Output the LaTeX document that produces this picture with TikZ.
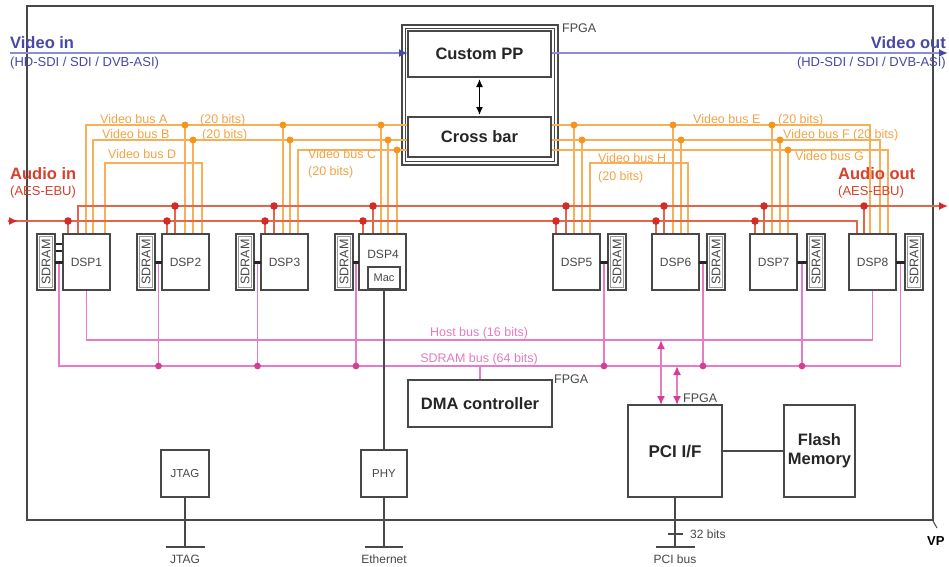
\documentclass[tikz,border=0pt]{standalone}
\usepackage{fontspec}
\setmainfont{Liberation Sans}
\usetikzlibrary{arrows.meta,calc}
\newcommand\fsz[1]{\fontsize{#1}{#1}\selectfont}
\definecolor{dk}{HTML}{484848}
\definecolor{vidc}{HTML}{8C8CD8}
\definecolor{vidt}{HTML}{4848A6}
\definecolor{audl}{HTML}{E2664A}
\definecolor{audd}{HTML}{D42A2A}
\definecolor{audt}{HTML}{D6402C}
\definecolor{orl}{HTML}{F8B058}
\definecolor{ord}{HTML}{F4961C}
\definecolor{ort}{HTML}{F2A445}
\definecolor{pkl}{HTML}{E67CC6}
\definecolor{pkd}{HTML}{D63C98}
\definecolor{pkt}{HTML}{E47CC0}
\pgfdeclarelayer{bg}
\pgfsetlayers{bg,main}
\begin{document}
\begin{tikzpicture}[x=1pt,y=-1pt,
  frame/.style={draw=dk, line width=1.8pt},
  blk/.style={draw=dk, line width=1.6pt, fill=white, inner sep=0pt, outer sep=0pt, anchor=north west},
  dspbox/.style={blk, minimum width=47pt, minimum height=56pt, font=\fsz{12}, text=dk},
  sdbox/.style={blk, minimum width=18pt, minimum height=56pt, line width=1.5pt},
  sdtxt/.style={rotate=90, font=\fsz{12.5}, text=dk, inner sep=0pt},
  lbl/.style={font=\fsz{12.5}, inner sep=0pt, anchor=base west},
  bigbox/.style={blk, font=\bfseries\fsz{16.5}, text=black!85},
  vid/.style={draw=vidc, line width=1.8pt},
  aud/.style={draw=audl, line width=1.5pt},
  orn/.style={draw=orl, line width=1.4pt},
  pnk/.style={draw=pkl, line width=1.4pt},
  pnkarrow/.style={draw=pkl, line width=1.6pt, {Latex[length=9pt,width=8pt,color=pkd]}-{Latex[length=9pt,width=8pt,color=pkd]}},
  wire/.style={draw=dk, line width=1.3pt},
  conn/.style={draw=black!85, line width=3pt},
]
\useasboundingbox (0,0) rectangle (949,566);
\begin{pgfonlayer}{bg}
\fill[white] (0,0) rectangle (949,566);
\end{pgfonlayer}

% ---------- boxes ----------
\node[bigbox, minimum width=143pt, minimum height=46pt] (cpp) at (408,31) {Custom PP};
\node[bigbox, minimum width=143pt, minimum height=40pt] (xb) at (408,117) {Cross bar};
\node[bigbox, minimum width=144pt, minimum height=47pt] (dma) at (408,380) {DMA controller};
\node[bigbox, minimum width=94pt, minimum height=92pt, font=\bfseries\fsz{17}] (pci) at (628,405) {PCI I/F};
\node[bigbox, minimum width=71pt, minimum height=92pt, align=center, font=\bfseries\fontsize{16.5}{19}\selectfont] (fl) at (784,405) {Flash\\Memory};
\node[blk, minimum width=48pt, minimum height=47pt, font=\fsz{11.5}, text=dk] (jt) at (161,450) {JTAG};
\node[blk, minimum width=46pt, minimum height=47pt, font=\fsz{11.5}, text=dk] (phy) at (361,450) {PHY};

\node[dspbox] (d1) at (63,234) {DSP1};
\node[dspbox] (d2) at (162,234) {DSP2};
\node[dspbox] (d3) at (261,234) {DSP3};
\node[dspbox] (d4) at (359,234) {};
\node[font=\fsz{12}, text=dk, inner sep=0pt] (d4l) at (383,254) {DSP4};
\node[blk, minimum width=32pt, minimum height=22pt, line width=1.3pt, font=\fsz{11}, text=dk] (mac) at (368,267) {Mac};
\node[dspbox] (d5) at (553,234) {DSP5};
\node[dspbox] (d6) at (652,234) {DSP6};
\node[dspbox] (d7) at (750,234) {DSP7};
\node[dspbox] (d8) at (849,234) {DSP8};

\node[sdbox] (s1) at (37,234) {};
\node[sdbox] (s2) at (137,234) {};
\node[sdbox] (s3) at (236,234) {};
\node[sdbox] (s4) at (335,234) {};
\node[sdbox] (s5) at (608,234) {};
\node[sdbox] (s6) at (707,234) {};
\node[sdbox] (s7) at (807,234) {};
\node[sdbox] (s8) at (905,234) {};
\foreach \s in {s1,s2,s3,s4,s5,s6,s7,s8} {
  \draw[dk!55, line width=0.8pt] ([shift={(2.6pt,-2.6pt)}]\s.north west) rectangle ([shift={(-2.6pt,2.6pt)}]\s.south east);
  \node[sdtxt] (\s t) at (\s.center) {SDRAM};}

% SDRAM-DSP connectors
\draw[conn] (s1.east) -- (d1.west);
\draw[conn] (s2.east) -- (d2.west);
\draw[conn] (s3.east) -- (d3.west);
\draw[conn] (s4.east) -- (d4.west);
\draw[conn] (d5.east) -- (s5.west);
\draw[conn] (d6.east) -- (s6.west);
\draw[conn] (d7.east) -- (s7.west);
\draw[conn] (d8.east) -- (s8.west);
\draw[draw=black!85, line width=2pt] (56,244) -- (62,244) (56,251) -- (62,251);
\coordinate (c1) at ($(s1.east)!.5!(d1.west)$);
\coordinate (c2) at ($(s2.east)!.5!(d2.west)$);
\coordinate (c3) at ($(s3.east)!.5!(d3.west)$);
\coordinate (c4) at ($(s4.east)!.5!(d4.west)$);
\coordinate (c5) at ($(d5.east)!.5!(s5.west)$);
\coordinate (c6) at ($(d6.east)!.5!(s6.west)$);
\coordinate (c7) at ($(d7.east)!.5!(s7.west)$);
\coordinate (c8) at ($(d8.east)!.5!(s8.west)$);

% ---------- labels ----------
\node[font=\bfseries\fsz{16.5}, text=vidt, anchor=base west, inner sep=0pt] (vinl) at (10,48) {Video in};
\node[font=\fsz{13}, text=vidt, anchor=base west, inner sep=0pt] (vinl2) at (10,66) {(HD-SDI / SDI / DVB-ASI)};
\node[font=\bfseries\fsz{16.5}, text=vidt, anchor=base east, inner sep=0pt] (voutl) at (946,48) {Video out};
\node[font=\fsz{13}, text=vidt, anchor=base east, inner sep=0pt] (voutl2) at (946,66) {(HD-SDI / SDI / DVB-ASI)};
\node[font=\bfseries\fsz{16.5}, text=audt, anchor=base west, inner sep=0pt] (ainl) at (10,179) {Audio in};
\node[font=\fsz{13}, text=audt, anchor=base west, inner sep=0pt] (ainl2) at (10,195) {(AES-EBU)};
\node[font=\bfseries\fsz{16.5}, text=audt, anchor=base west, inner sep=0pt] (aoutl) at (838,179) {Audio out};
\node[font=\fsz{13}, text=audt, anchor=base west, inner sep=0pt] (aoutl2) at (838,195) {(AES-EBU)};

\node[lbl, text=ort] (lA) at (100,123) {Video bus A};
\node[lbl, text=ort] (lA2) at (200,123) {(20 bits)};
\node[lbl, text=ort] (lB) at (102,138) {Video bus B};
\node[lbl, text=ort] (lB2) at (202,138) {(20 bits)};
\node[lbl, text=ort] (lD) at (108,158) {Video bus D};
\node[lbl, text=ort] (lC) at (308,158) {Video bus C};
\node[lbl, text=ort] (lC2) at (308,175) {(20 bits)};
\node[lbl, text=ort] (lE) at (693,123) {Video bus E};
\node[lbl, text=ort] (lE2) at (778,123) {(20 bits)};
\node[lbl, text=ort] (lF) at (783,138) {Video bus F (20 bits)};
\node[lbl, text=ort] (lG) at (795,160) {Video bus G};
\node[lbl, text=ort] (lH) at (598,162) {Video bus H};
\node[lbl, text=ort] (lH2) at (598,180) {(20 bits)};

\node[lbl, text=pkt, anchor=base] (lhost) at (479,336) {Host bus (16 bits)};
\node[lbl, text=pkt, anchor=base] (lsd) at (479,362) {SDRAM bus (64 bits)};

\node[lbl, text=dk] (f1) at (562,32) {FPGA};
\node[lbl, text=dk] (f2) at (554,383) {FPGA};
\node[lbl, text=dk] (f3) at (683,402) {FPGA};
\node[lbl, text=dk, font=\fsz{12}] (b32) at (690,538) {32 bits};
\node[lbl, text=dk, font=\fsz{12}, anchor=base] (ljt) at (185,563) {JTAG};
\node[lbl, text=dk, font=\fsz{12}, anchor=base] (leth) at (384,563) {Ethernet};
\node[lbl, text=dk, font=\fsz{12}, anchor=base] (lpci) at (675,563) {PCI bus};
\node[font=\bfseries\fsz{13}, anchor=base west, inner sep=0pt] (vp) at (927,545) {VP};

% ---------- connectors (background) ----------
\coordinate (vin) at (10,53);
\coordinate (vout) at (948,53);
\coordinate (hb) at (0,340);
\coordinate (sb) at (0,366);
\coordinate (jtb) at (185,547);
\coordinate (phyb) at (384,547);
\coordinate (pcib) at (675,547);
\coordinate (a1) at (661,340);
\coordinate (a2) at (677,366);

\begin{pgfonlayer}{bg}
% board frame and FPGA frame
\draw[frame] (27,6) rectangle (933,520);
\draw[dk, line width=1pt] (933,521) -- (937,528);
\draw[dk, line width=1.3pt] (402,25) rectangle (558,165);
\draw[dk, line width=1.3pt] (405.5,28.5) rectangle (554.5,161.5);

% video
\draw[vid, -{Latex[length=9pt,width=8pt,color=vidt]}] (vin) -- (vin -| cpp.west);
\draw[vid, -{Latex[length=9pt,width=8pt,color=vidt]}] (cpp.east |- vin) -- (vout);
\draw[black, line width=1.4pt, {Latex[length=8pt,width=7pt]}-{Latex[length=8pt,width=7pt]}] ([yshift=-2pt]cpp.south) -- ([yshift=2pt]xb.north);

% orange video buses
\draw[orn] (86,234) |- (xb.west |- 0,125);
\draw[orn] (93,234) |- (xb.west |- 0,140);
\draw[orn] (298,234) |- (xb.west |- 0,150);
\draw[orn] (105,234) |- (202,163) -- (202,234);
\draw[orn] (xb.east |- 0,125) -| (870,234);
\draw[orn] (xb.east |- 0,140) -| (880,234);
\draw[orn] (xb.east |- 0,150) -| (888,234);
\draw[orn] (590,234) |- (688,163) -- (688,234);
\foreach \x in {185,283,381,574,673,772} {\draw[orn] (\x,125) -- (\x,234); \fill[ord] (\x,125) circle (3.5pt);}
\foreach \x in {193,290,388,582,681,780} {\draw[orn] (\x,140) -- (\x,234); \fill[ord] (\x,140) circle (3.5pt);}
\foreach \x in {397,788} {\draw[orn] (\x,150) -- (\x,234); \fill[ord] (\x,150) circle (3.5pt);}

% audio
\draw[aud] (8,221) -- (857,221) -- (857,234);
\draw[audl, line width=1.5pt, -{Latex[length=9pt,width=8pt,color=audd]}] (8,221) -- (18,221);
\draw[aud, -{Latex[length=9pt,width=8pt,color=audd]}] (78,234) -- (78,206) -- (948,206);
\foreach \x in {68,167,265,363,556,656,755} {\draw[aud] (\x,221) -- (\x,234); \fill[audd] (\x,221) circle (3.8pt);}
\foreach \x in {175,274,373,566,664,764,864} {\draw[aud] (\x,206) -- (\x,234); \fill[audd] (\x,206) circle (3.8pt);}

% pink buses
\draw[pnk] (d1.south) |- (d8.south |- hb) -- (d8.south);
\draw[pnk] (c1) |- (c8 |- sb) -- (c8);
\foreach \c in {c2,c3,c4,c5,c6,c7} {\draw[pnk] (\c) -- (\c |- sb); \fill[pkd] (\c |- sb) circle (3.4pt);}
\draw[pnk] (dma.north) -- (dma.north |- sb);
\draw[pnkarrow] (a1) -- (a1 |- pci.north);
\draw[pnkarrow] (a2) -- (a2 |- pci.north);

% black wires
\draw[wire] (mac.south) -- (phy.north);
\draw[wire] (phy.south) -- (phyb);
\draw[wire] ($(phyb)+(-19,0)$) -- ($(phyb)+(19,0)$);
\draw[wire] (jt.south) -- (jtb);
\draw[wire] ($(jtb)+(-19,0)$) -- ($(jtb)+(20,0)$);
\draw[wire] (pci.south) -- (pcib);
\draw[wire] ($(pcib)+(-19,0)$) -- ($(pcib)+(20,0)$);
\draw[wire] ($(pcib)+(-7,-13)$) -- ($(pcib)+(8,-13)$);
\draw[wire] (pci.east) -- (fl.west);
\end{pgfonlayer}
\end{tikzpicture}
\end{document}
